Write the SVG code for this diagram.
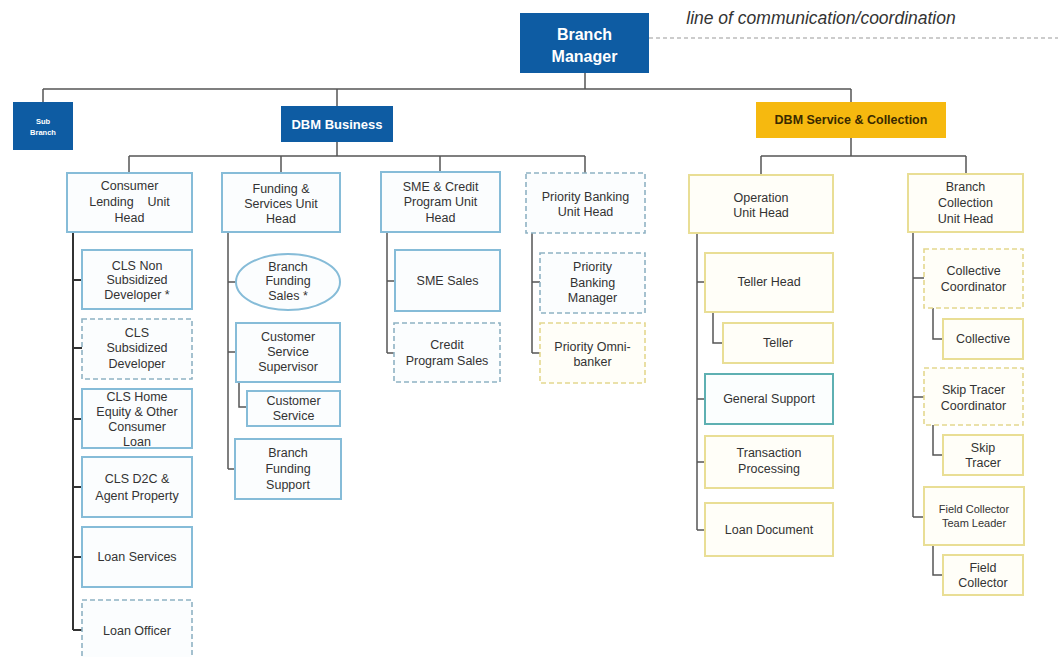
<svg xmlns="http://www.w3.org/2000/svg" width="1058" height="657" viewBox="0 0 1058 657">
<style>
text{font-family:"Liberation Sans",Arial,sans-serif;text-anchor:middle;dominant-baseline:central;fill:#333;font-size:12.5px}
.hb{fill:#0e5ca3}
.hy{fill:#f6b90f}
.wt{fill:#fff;font-weight:bold}
.b{fill:#fbfdfe;stroke:#86bcd8;stroke-width:2}
.bd{fill:#fbfdfe;stroke:#8fb2c4;stroke-width:1.6;stroke-dasharray:5 3}
.y{fill:#fffef8;stroke:#e9de95;stroke-width:2}
.yd{fill:#fffef8;stroke:#e4d88e;stroke-width:1.6;stroke-dasharray:5 3}
.t{fill:#fbfefe;stroke:#5eb0b2;stroke-width:2}
.c{fill:none;stroke:#555;stroke-width:1.5}
</style>
<rect width="1058" height="657" fill="#fff"/>
<text x="821" y="18" style="font-style:italic;font-size:17.5px;fill:#333">line of communication/coordination</text>
<g id="connectors">
<path class="c" d="M649,38 H1058" style="stroke:#9a9a9a;stroke-width:1.2;stroke-dasharray:4 3"/>
<path class="c" d="M585,73 V89 M43,89 H851 M43,89 V102 M337,89 V106 M851,89 V102"/>
<path class="c" d="M337,142 V156 M129,156 H585 M129,156 V173 M281,156 V173 M440,156 V172 M585,156 V173"/>
<path class="c" d="M851,138 V156 M761,156 H966 M761,156 V175 M966,156 V174"/>
<path class="c" d="M73,232 V630 M73,280 H82 M73,348 H82 M73,419 H82 M73,487 H82 M73,557 H82 M73,630 H82" style="stroke:#333;stroke-width:2"/>
<path class="c" d="M228,232 V469 M228,282 H236 M228,352 H236 M228,469 H235 M239,382 V407 H247"/>
<path class="c" d="M387,232 V353 M387,281 H395 M387,353 H394"/>
<path class="c" d="M532,233 V353 M532,282 H540 M532,353 H540"/>
<path class="c" d="M697,233 V530 M697,282 H705 M697,399 H705 M697,462 H705 M697,530 H705 M713,312 V343 H723"/>
<path class="c" d="M913,232 V517 M913,278 H924 M913,397 H924 M913,517 H924 M933,308 V339 H943 M933,425 V455 H943 M933,545 V575 H943"/>
</g>
<g id="branch-manager"><rect class="hb" x="520" y="13" width="129" height="60"/><text class="wt" x="584.5" y="34" style="font-size:16px">Branch</text><text class="wt" x="584.5" y="56" style="font-size:16px">Manager</text></g>
<g id="sub-branch"><rect class="hb" x="13" y="102" width="60" height="48"/><text class="wt" x="43" y="121" style="font-size:7.5px">Sub</text><text class="wt" x="43" y="132" style="font-size:7.5px">Branch</text></g>
<g id="dbm-business"><rect class="hb" x="281" y="106" width="112" height="36"/><text class="wt" x="337" y="124" style="font-size:13px">DBM Business</text></g>
<g id="dbm-service"><rect class="hy" x="756" y="102" width="190" height="36"/><text x="851" y="120" style="font-size:12.5px;font-weight:bold;fill:#3a2a00">DBM Service &amp; Collection</text></g>

<g id="consumer-lending-head"><rect class="b" x="67" y="173" width="125" height="59"/><text x="129.5" y="186">Consumer</text><text x="129.5" y="202" xml:space="preserve">Lending    Unit</text><text x="129.5" y="218">Head</text></g>
<g id="cls-non-subsidized"><rect class="b" x="82" y="250" width="110" height="59"/><text x="137" y="266">CLS Non</text><text x="137" y="280">Subsidized</text><text x="137" y="295">Developer *</text></g>
<g id="cls-subsidized"><rect class="bd" x="82" y="319" width="110" height="60"/><text x="137" y="333">CLS</text><text x="137" y="348">Subsidized</text><text x="137" y="364">Developer</text></g>
<g id="cls-home-equity"><rect class="b" x="82" y="389" width="110" height="59"/><text x="137" y="397">CLS Home</text><text x="137" y="412">Equity &amp; Other</text><text x="137" y="427">Consumer</text><text x="137" y="442">Loan</text></g>
<g id="cls-d2c"><rect class="b" x="82" y="457" width="110" height="60"/><text x="137" y="479">CLS D2C &amp;</text><text x="137" y="496">Agent Property</text></g>
<g id="loan-services"><rect class="b" x="82" y="527" width="110" height="60"/><text x="137" y="557">Loan Services</text></g>
<g id="loan-officer"><rect class="bd" x="82" y="600" width="110" height="62"/><text x="137" y="631">Loan Officer</text></g>

<g id="funding-head"><rect class="b" x="222" y="173" width="118" height="59"/><text x="281" y="189">Funding &amp;</text><text x="281" y="204">Services Unit</text><text x="281" y="219">Head</text></g>
<g id="branch-funding-sales"><ellipse class="b" cx="288" cy="282" rx="52" ry="28"/><text x="288" y="267">Branch</text><text x="288" y="281">Funding</text><text x="288" y="296">Sales *</text></g>
<g id="cs-supervisor"><rect class="b" x="236" y="323" width="104" height="59"/><text x="288" y="337">Customer</text><text x="288" y="352">Service</text><text x="288" y="367">Supervisor</text></g>
<g id="customer-service"><rect class="b" x="247" y="391" width="93" height="35"/><text x="293.5" y="401">Customer</text><text x="293.5" y="416">Service</text></g>
<g id="branch-funding-support"><rect class="b" x="235" y="439" width="106" height="60"/><text x="288" y="453">Branch</text><text x="288" y="469">Funding</text><text x="288" y="485">Support</text></g>

<g id="sme-head"><rect class="b" x="381" y="172" width="119" height="60"/><text x="440.5" y="187">SME &amp; Credit</text><text x="440.5" y="202">Program Unit</text><text x="440.5" y="218">Head</text></g>
<g id="sme-sales"><rect class="b" x="395" y="250" width="105" height="61"/><text x="447.5" y="281">SME Sales</text></g>
<g id="credit-program-sales"><rect class="bd" x="394" y="323" width="106" height="59"/><text x="447" y="345">Credit</text><text x="447" y="361">Program Sales</text></g>

<g id="priority-head"><rect class="bd" x="526" y="173" width="119" height="60"/><text x="585.5" y="197">Priority Banking</text><text x="585.5" y="212">Unit Head</text></g>
<g id="priority-manager"><rect class="bd" x="540" y="253" width="105" height="60"/><text x="592.5" y="267">Priority</text><text x="592.5" y="283">Banking</text><text x="592.5" y="298">Manager</text></g>
<g id="priority-omni"><rect class="yd" x="540" y="323" width="105" height="60"/><text x="592.5" y="347">Priority Omni-</text><text x="592.5" y="362">banker</text></g>

<g id="operation-head"><rect class="y" x="689" y="175" width="144" height="58"/><text x="761" y="198">Operation</text><text x="761" y="213">Unit Head</text></g>
<g id="teller-head"><rect class="y" x="705" y="253" width="128" height="59"/><text x="769" y="282">Teller Head</text></g>
<g id="teller"><rect class="y" x="723" y="323" width="110" height="40"/><text x="778" y="343">Teller</text></g>
<g id="general-support"><rect class="t" x="705" y="374" width="128" height="50"/><text x="769" y="399">General Support</text></g>
<g id="transaction-processing"><rect class="y" x="705" y="436" width="128" height="52"/><text x="769" y="453">Transaction</text><text x="769" y="469">Processing</text></g>
<g id="loan-document"><rect class="y" x="705" y="503" width="128" height="53"/><text x="769" y="530">Loan Document</text></g>

<g id="collection-head"><rect class="y" x="908" y="174" width="115" height="58"/><text x="965.5" y="187">Branch</text><text x="965.5" y="203">Collection</text><text x="965.5" y="219">Unit Head</text></g>
<g id="collective-coordinator"><rect class="yd" x="924" y="249" width="99" height="59"/><text x="973.5" y="271">Collective</text><text x="973.5" y="287">Coordinator</text></g>
<g id="collective"><rect class="y" x="943" y="319" width="80" height="40"/><text x="983" y="339">Collective</text></g>
<g id="skip-tracer-coordinator"><rect class="yd" x="924" y="368" width="99" height="57"/><text x="973.5" y="390">Skip Tracer</text><text x="973.5" y="406">Coordinator</text></g>
<g id="skip-tracer"><rect class="y" x="943" y="435" width="80" height="40"/><text x="983" y="448">Skip</text><text x="983" y="463">Tracer</text></g>
<g id="field-collector-tl"><rect class="y" x="924" y="487" width="100" height="58"/><text x="974" y="509" style="font-size:11px">Field Collector</text><text x="974" y="523" style="font-size:11px">Team Leader</text></g>
<g id="field-collector"><rect class="y" x="943" y="555" width="80" height="40"/><text x="983" y="568">Field</text><text x="983" y="583">Collector</text></g>
</svg>
